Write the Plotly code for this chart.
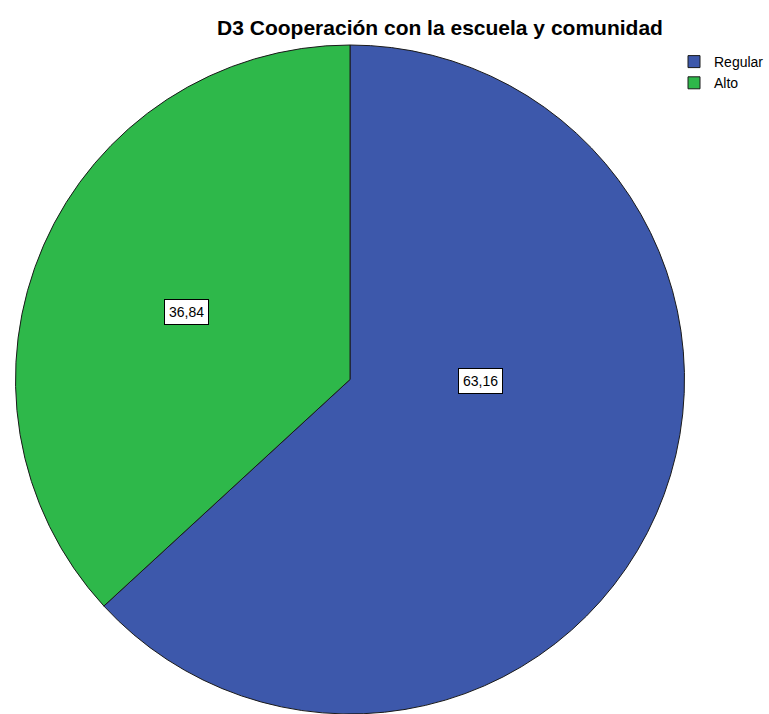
import plotly.graph_objects as go
import math

categories = ["Regular", "Alto"]
values = [63.16, 36.84]
label_texts = ["63,16", "36,84"]
colors = ["#3D58AB", "#2EB84A"]

W, H = 769, 714
top = 45
r = (H - top) / 2.0
cx, cy = 350, top + r

fig = go.Figure()
fig.add_trace(go.Pie(
    labels=categories,
    values=values,
    sort=False,
    direction="clockwise",
    rotation=0,
    textinfo="none",
    hoverinfo="label+value",
    marker=dict(colors=colors, line=dict(color="#1a1a1a", width=1)),
    domain=dict(x=[(cx - r) / W, (cx + r) / W], y=[0, 1 - top / H]),
))

# label placement (fraction of radius, angle) per slice
label_pos = [(0.39, 90.5), (0.53, 292.5)]
annotations = []
for txt, (fr, ang) in zip(label_texts, label_pos):
    px = cx + fr * r * math.sin(math.radians(ang))
    py = cy - fr * r * math.cos(math.radians(ang))
    annotations.append(dict(
        x=px / W, y=1 - py / H, xref="paper", yref="paper",
        xanchor="center", yanchor="middle",
        text=txt, showarrow=False,
        font=dict(family="Liberation Sans, Arial", size=14, color="black"),
        bgcolor="white", bordercolor="black", borderwidth=1, borderpad=4,
    ))

fig.update_layout(
    width=W, height=H,
    margin=dict(l=0, r=0, t=0, b=0),
    paper_bgcolor="white", plot_bgcolor="white",
    title=dict(text="<b>D3 Cooperación con la escuela y comunidad</b>",
               x=440 / W, xanchor="center", y=1 - 28 / H, yanchor="middle",
               font=dict(family="Liberation Sans, Arial", size=21, color="black")),
    showlegend=True,
    legend=dict(x=1, y=1 - 46 / H, xanchor="right", yanchor="top",
                font=dict(family="Liberation Sans, Arial", size=14, color="black"),
                bgcolor="rgba(0,0,0,0)", itemwidth=30, tracegroupgap=0),
    annotations=annotations,
)

post = (
    "document.documentElement.style.overflow='hidden';"
    "document.body.style.margin='0';document.body.style.overflow='hidden';"
)
fig.write_html("out.html", post_script=post, config={"displayModeBar": False})
